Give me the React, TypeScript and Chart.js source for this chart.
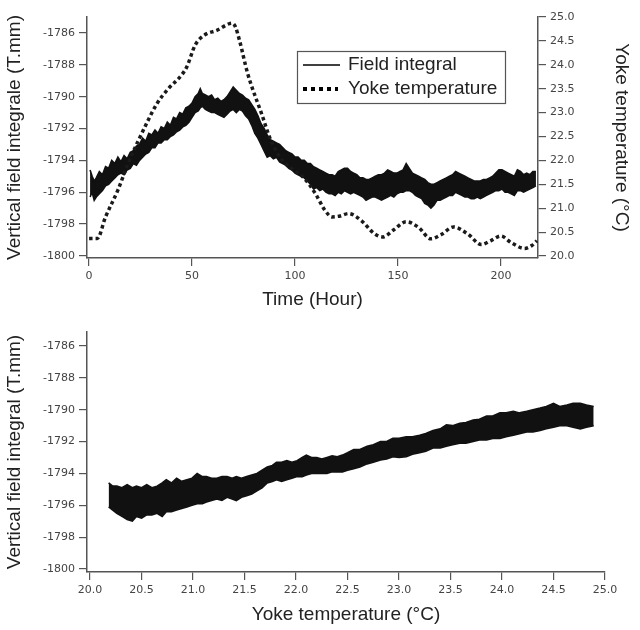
import React, { useEffect, useRef } from "react";
import { Chart, registerables } from "chart.js";

Chart.register(...registerables);

// ---------- Top panel: field integral band (upper / lower envelope) vs time ----------
const TIME_HOURS = [
  0.5, 1.5, 2.5, 3.5, 5, 6.5, 8, 9.5, 11, 12.5,
  14, 15.5, 17, 18.5, 20, 21.5, 23, 24.5, 26, 27.5,
  29, 30.5, 32, 33.5, 35, 36.5, 38, 39.5, 41, 42.5,
  44, 45.5, 47, 48.5, 50, 51.5, 53, 54, 55, 56.5,
  58, 59.5, 61, 62.5, 64, 65.5, 67, 68.5, 70, 71.5,
  73, 74.5, 76, 77.5, 79, 80.5, 82, 83.5, 85, 86.5,
  88, 89.5, 91, 92.5, 94, 95.5, 97, 98.5, 100, 101.5,
  103, 104.5, 106, 107.5, 109, 110.5, 112, 113.5, 115, 116.5,
  118, 119.5, 121, 122.5, 124, 125.5, 127, 128.5, 130, 131.5,
  133, 134.5, 136, 137.5, 139, 140.5, 142, 143.5, 145, 146.5,
  148, 149.5, 151, 152.5, 154, 155.5, 157, 158.5, 160, 161.5,
  163, 164.5, 166, 167.5, 169, 170.5, 172, 173.5, 175, 176.5,
  178, 179.5, 181, 182.5, 184, 185.5, 187, 188.5, 190, 191.5,
  193, 194.5, 196, 197.5, 199, 200.5, 202, 203.5, 205, 206.5,
  208, 209.5, 211, 212.5, 214, 215.5, 217,
];
const FIELD_UPPER = [
  -1794.6, -1795.0, -1795.3, -1795.1, -1794.7, -1794.9, -1794.4, -1794.5, -1794.0, -1794.2,
  -1793.8, -1794.1, -1793.7, -1793.9, -1793.5, -1793.4, -1793.1, -1793.0, -1792.6, -1792.8,
  -1792.3, -1792.4, -1792.1, -1792.3, -1791.9, -1792.0, -1791.6, -1791.8, -1791.3, -1791.4,
  -1791.0, -1791.1, -1790.7, -1790.6, -1790.4, -1790.0, -1789.8, -1789.5, -1789.8, -1789.9,
  -1790.0, -1789.9, -1790.2, -1790.1, -1790.3, -1790.2, -1790.0, -1789.7, -1789.4, -1789.6,
  -1789.8, -1789.9, -1790.1, -1790.2, -1790.5, -1790.8, -1791.2, -1791.7, -1792.0, -1792.4,
  -1792.7, -1792.8, -1792.9, -1793.0, -1793.2, -1793.4, -1793.5, -1793.6, -1793.8, -1793.8,
  -1794.0, -1794.0, -1794.2, -1794.2, -1794.4, -1794.5, -1794.6, -1794.7, -1794.8, -1794.9,
  -1794.9, -1795.0, -1794.7, -1794.6, -1794.5, -1794.5, -1794.7, -1794.8, -1794.9, -1795.1,
  -1795.1, -1795.2, -1795.2, -1795.1, -1795.0, -1794.9, -1794.9, -1794.8, -1794.6, -1794.7,
  -1794.8, -1794.8, -1794.7, -1794.6, -1794.2, -1794.5, -1794.8, -1794.9, -1795.0, -1795.1,
  -1795.2, -1795.4, -1795.5, -1795.5, -1795.4, -1795.3, -1795.2, -1795.1, -1795.0, -1794.9,
  -1794.7, -1794.8, -1794.9, -1795.0, -1795.1, -1795.2, -1795.3, -1795.3, -1795.3, -1795.2,
  -1795.2, -1795.1, -1795.0, -1794.8, -1794.6, -1794.6, -1794.7, -1794.8, -1794.9, -1795.0,
  -1794.6, -1794.7, -1794.9, -1794.8, -1794.9, -1794.7, -1794.7,
];
const FIELD_LOWER = [
  -1796.3, -1796.0, -1796.5, -1796.3, -1796.1, -1795.9, -1795.6, -1795.5, -1795.3, -1795.1,
  -1794.9, -1794.8, -1794.9, -1794.6, -1794.5, -1794.2, -1794.3, -1794.0, -1793.8, -1793.6,
  -1793.5, -1793.2, -1793.2, -1792.9, -1792.9, -1792.7, -1792.7, -1792.5, -1792.4, -1792.2,
  -1792.1, -1791.9, -1791.8, -1791.6, -1791.3, -1791.0, -1790.9, -1790.7, -1790.6, -1790.8,
  -1790.9, -1791.0, -1791.0, -1791.1, -1791.2, -1791.3, -1791.1, -1790.9, -1790.8, -1791.0,
  -1790.8, -1790.9, -1791.2, -1791.4, -1791.8, -1792.3, -1792.6, -1793.0, -1793.4, -1793.8,
  -1793.7, -1793.9, -1793.8, -1794.1, -1794.2, -1794.3, -1794.5, -1794.6, -1794.8, -1794.9,
  -1795.0, -1795.1, -1795.3, -1795.5, -1795.8, -1795.7, -1795.9, -1795.8, -1796.0, -1796.1,
  -1796.1, -1796.2, -1796.0, -1796.1, -1795.9, -1796.0, -1796.1, -1796.0, -1796.1, -1796.2,
  -1796.3, -1796.5, -1796.4, -1796.3, -1796.3, -1796.4, -1796.5, -1796.4, -1796.3, -1796.2,
  -1796.3, -1796.1, -1796.0, -1796.0, -1795.9, -1795.9, -1796.0, -1796.2, -1796.3, -1796.4,
  -1796.7, -1796.8, -1797.0, -1796.8, -1796.5, -1796.5, -1796.4, -1796.3, -1796.2, -1796.2,
  -1796.0, -1796.1, -1796.2, -1796.3, -1796.3, -1796.4, -1796.4, -1796.3, -1796.4, -1796.3,
  -1796.2, -1796.1, -1796.0, -1795.9, -1795.9, -1795.8, -1796.0, -1796.0, -1796.1, -1796.2,
  -1795.9, -1795.9, -1796.0, -1795.9, -1795.8, -1795.7, -1795.6,
];

// ---------- Top panel: yoke temperature vs time ----------
const TEMP_TIME = [
  0, 4, 8, 14, 19, 28, 33, 38.5, 45, 47.5,
  51.5, 56, 62, 69.5, 71, 73, 77, 84, 88, 93.5,
  100, 104, 110, 114.5, 118, 122, 126, 132, 138.5, 142.5,
  148, 154, 160, 166, 171, 177, 184, 190.5, 195, 200,
  205, 211.5, 215, 217.5,
];
const TEMP_VALUES = [
  20.37, 20.37, 20.82, 21.38, 21.94, 22.78, 23.19, 23.5, 23.79, 23.96,
  24.41, 24.62, 24.72, 24.87, 24.8, 24.52, 23.82, 22.95, 22.45, 22.02,
  21.78, 21.65, 21.3, 20.96, 20.82, 20.84, 20.89, 20.75, 20.47, 20.4,
  20.55, 20.72, 20.6, 20.36, 20.45, 20.61, 20.46, 20.24, 20.32, 20.42,
  20.28, 20.16, 20.22, 20.32,
];

// ---------- Bottom panel: field integral band vs yoke temperature ----------
const YOKE_TEMP = [
  20.18, 20.22, 20.26, 20.31, 20.36, 20.41, 20.45, 20.5, 20.55, 20.6,
  20.65, 20.7, 20.74, 20.79, 20.84, 20.89, 20.94, 20.99, 21.04, 21.09,
  21.13, 21.18, 21.23, 21.28, 21.33, 21.38, 21.42, 21.47, 21.52, 21.57,
  21.62, 21.67, 21.72, 21.77, 21.81, 21.86, 21.91, 21.96, 22.01, 22.06,
  22.1, 22.15, 22.2, 22.25, 22.3, 22.35, 22.4, 22.45, 22.5, 22.56,
  22.62, 22.69, 22.75, 22.82, 22.88, 22.94, 23.0, 23.07, 23.13, 23.2,
  23.26, 23.33, 23.4, 23.46, 23.52, 23.59, 23.65, 23.72, 23.78, 23.85,
  23.91, 23.98, 24.04, 24.11, 24.17, 24.24, 24.3, 24.37, 24.43, 24.5,
  24.56, 24.63, 24.69, 24.76, 24.82, 24.89,
];
const FIELD_VS_TEMP_UPPER = [
  -1794.6, -1794.8, -1794.8, -1794.9, -1794.7, -1794.9, -1794.8, -1794.9, -1794.7, -1794.9,
  -1794.8, -1794.6, -1794.4, -1794.6, -1794.3, -1794.5, -1794.4, -1794.3, -1794.0, -1794.2,
  -1794.2, -1794.3, -1794.3, -1794.2, -1794.2, -1794.3, -1794.2, -1794.3, -1794.2, -1794.1,
  -1794.0, -1793.8, -1793.6, -1793.5, -1793.3, -1793.3, -1793.2, -1793.3, -1793.2, -1793.0,
  -1792.85, -1793.0, -1793.0, -1793.1, -1793.0, -1792.9, -1792.95, -1792.85, -1792.7, -1792.5,
  -1792.5, -1792.3, -1792.2, -1792.0, -1792.0, -1791.8, -1791.8, -1791.7, -1791.7, -1791.6,
  -1791.5, -1791.3, -1791.2, -1790.95, -1791.0, -1790.85, -1790.8, -1790.65, -1790.6, -1790.4,
  -1790.4, -1790.2, -1790.2, -1790.1, -1790.2, -1790.1, -1790.0, -1789.9, -1789.8, -1789.6,
  -1789.8, -1789.7, -1789.6, -1789.6, -1789.7, -1789.8,
];
const FIELD_VS_TEMP_LOWER = [
  -1796.1, -1796.3, -1796.5, -1796.7, -1796.9, -1797.0, -1796.7, -1796.8, -1796.6, -1796.6,
  -1796.5, -1796.7, -1796.4, -1796.4, -1796.3, -1796.2, -1796.1, -1796.0, -1795.9, -1795.9,
  -1795.8, -1795.7, -1795.6, -1795.7, -1795.5, -1795.6, -1795.7, -1795.5, -1795.4, -1795.3,
  -1795.1, -1794.9, -1794.6, -1794.5, -1794.4, -1794.5, -1794.4, -1794.3, -1794.2, -1794.2,
  -1794.1, -1794.0, -1794.0, -1794.0, -1794.0, -1793.9, -1793.9, -1793.9, -1793.8, -1793.7,
  -1793.6, -1793.4, -1793.3, -1793.15, -1793.1, -1792.95, -1793.0, -1792.95, -1792.8, -1792.7,
  -1792.6, -1792.4, -1792.4, -1792.3, -1792.2, -1792.1, -1792.1, -1792.0, -1791.9, -1791.9,
  -1791.8, -1791.8, -1791.7, -1791.6, -1791.5, -1791.4, -1791.4, -1791.3, -1791.2, -1791.1,
  -1791.0, -1791.0, -1791.1, -1791.2, -1791.1, -1791.0,
];

// ---------- Tick values and labels ----------
const TIME_TICKS = [0, 50, 100, 150, 200];
const FIELD_TICKS = [-1800, -1798, -1796, -1794, -1792, -1790, -1788, -1786];
const TEMP_TICKS = [20, 20.5, 21, 21.5, 22, 22.5, 23, 23.5, 24, 24.5, 25];
const LEGEND_LABELS = ["Field integral", "Yoke temperature"];

const TITLE_FONT = { family: "'Liberation Sans', Arial, sans-serif", size: 19 };
const TICK_FONT = { family: "'DejaVu Sans', sans-serif", size: 11 };
const AXIS_COLOR = "#555";
const TITLE_COLOR = "#222";
const TICK_COLOR = "#444";
const BAND_COLOR = "#111";

function axis(opts: any) {
  const { ticks, fmt, size, horizontal, title, titlePadding, ...rest } = opts;
  return {
    ...rest,
    afterBuildTicks: (s: any) => {
      s.ticks = ticks.map((v: number) => ({ value: v }));
    },
    afterFit: (s: any) => {
      if (horizontal) s.height = size;
      else s.width = size;
    },
    grid: {
      drawOnChartArea: false,
      drawTicks: true,
      tickLength: 8,
      color: AXIS_COLOR,
      lineWidth: 1.2,
    },
    border: { display: true, color: AXIS_COLOR, width: 1.5 },
    ticks: {
      font: TICK_FONT,
      color: TICK_COLOR,
      padding: 4,
      maxRotation: 0,
      autoSkip: false,
      callback: (v: any) => fmt(Number(v)),
    },
    title: {
      display: true,
      text: title,
      font: TITLE_FONT,
      color: TITLE_COLOR,
      padding: titlePadding,
    },
  };
}

const legendPlugin = {
  id: "boxLegend",
  afterDraw(chart: any) {
    const ctx = chart.ctx;
    ctx.save();
    ctx.fillStyle = "#fff";
    ctx.fillRect(297, 51, 209, 52);
    ctx.strokeStyle = "#555";
    ctx.lineWidth = 1.2;
    ctx.strokeRect(297.5, 51.5, 208, 52);
    ctx.strokeStyle = "#000";
    ctx.lineWidth = 1.4;
    ctx.beginPath();
    ctx.moveTo(303, 65);
    ctx.lineTo(340, 65);
    ctx.stroke();
    ctx.setLineDash([4, 4]);
    ctx.lineWidth = 4;
    ctx.beginPath();
    ctx.moveTo(303, 89);
    ctx.lineTo(338, 89);
    ctx.stroke();
    ctx.setLineDash([]);
    ctx.fillStyle = TITLE_COLOR;
    ctx.font = "19px 'Liberation Sans', Arial, sans-serif";
    ctx.textBaseline = "middle";
    ctx.textAlign = "left";
    ctx.fillText(LEGEND_LABELS[0], 348, 65);
    ctx.fillText(LEGEND_LABELS[1], 348, 89);
    ctx.restore();
  },
};

const pts = (xs: number[], ys: number[]) => xs.map((x, i) => ({ x, y: ys[i] }));

export default function App() {
  const topRef = useRef<HTMLCanvasElement>(null);
  const botRef = useRef<HTMLCanvasElement>(null);

  useEffect(() => {
    const common = {
      responsive: false,
      maintainAspectRatio: false,
      animation: false as const,
      events: [] as any[],
      plugins: { legend: { display: false }, tooltip: { enabled: false } },
      elements: { point: { radius: 0 } },
    };

    const top = new Chart(topRef.current as HTMLCanvasElement, {
      type: "line",
      data: {
        datasets: [
          {
            label: LEGEND_LABELS[1],
            data: pts(TEMP_TIME, TEMP_VALUES),
            yAxisID: "y2",
            borderColor: "#1a1a1a",
            borderWidth: 3.5,
            borderDash: [3.5, 3],
            cubicInterpolationMode: "monotone",
            fill: false,
            pointRadius: 0,
          },
          {
            label: LEGEND_LABELS[0],
            data: pts(TIME_HOURS, FIELD_UPPER),
            yAxisID: "y",
            borderColor: BAND_COLOR,
            backgroundColor: BAND_COLOR,
            borderWidth: 1.6,
            fill: "+1",
            pointRadius: 0,
          },
          {
            label: LEGEND_LABELS[0] + " (low)",
            data: pts(TIME_HOURS, FIELD_LOWER),
            yAxisID: "y",
            borderColor: BAND_COLOR,
            borderWidth: 1.6,
            fill: false,
            pointRadius: 0,
          },
        ],
      },
      options: {
        ...common,
        layout: { padding: { top: 17, left: 0, right: 0, bottom: 0 } },
        scales: {
          x: axis({
            type: "linear",
            position: "bottom",
            min: -1,
            max: 218,
            ticks: TIME_TICKS,
            fmt: (v: number) => String(v),
            size: 57,
            horizontal: true,
            title: "Time (Hour)",
            titlePadding: { top: 0, bottom: 4 },
          }),
          y: axis({
            type: "linear",
            position: "left",
            min: -1800.13,
            max: -1785.0,
            ticks: FIELD_TICKS,
            fmt: (v: number) => String(v),
            size: 87,
            title: "Vertical field integrale (T.mm)",
            titlePadding: { top: 3, bottom: 0 },
          }),
          y2: axis({
            type: "linear",
            position: "right",
            min: 19.96,
            max: 25.0,
            ticks: TEMP_TICKS,
            fmt: (v: number) => v.toFixed(1),
            size: 102,
            title: "Yoke temperature (°C)",
            titlePadding: { top: 7, bottom: 0 },
          }),
        },
      } as any,
      plugins: [legendPlugin],
    });

    const bot = new Chart(botRef.current as HTMLCanvasElement, {
      type: "line",
      data: {
        datasets: [
          {
            label: LEGEND_LABELS[0],
            data: pts(YOKE_TEMP, FIELD_VS_TEMP_UPPER),
            borderColor: BAND_COLOR,
            backgroundColor: BAND_COLOR,
            borderWidth: 1.6,
            fill: "+1",
            pointRadius: 0,
          },
          {
            label: LEGEND_LABELS[0] + " (low)",
            data: pts(YOKE_TEMP, FIELD_VS_TEMP_LOWER),
            borderColor: BAND_COLOR,
            borderWidth: 1.6,
            fill: false,
            pointRadius: 0,
          },
        ],
      },
      options: {
        ...common,
        layout: { padding: { top: 17, left: 0, right: 35, bottom: 0 } },
        scales: {
          x: axis({
            type: "linear",
            position: "bottom",
            min: 19.97,
            max: 25.0,
            ticks: TEMP_TICKS,
            fmt: (v: number) => v.toFixed(1),
            size: 58,
            horizontal: true,
            title: "Yoke temperature (°C)",
            titlePadding: { top: 0, bottom: 4 },
          }),
          y: axis({
            type: "linear",
            position: "left",
            min: -1800.19,
            max: -1785.12,
            ticks: FIELD_TICKS,
            fmt: (v: number) => String(v),
            size: 87,
            title: "Vertical field integral (T.mm)",
            titlePadding: { top: 3, bottom: 0 },
          }),
        },
      } as any,
    });

    return () => {
      top.destroy();
      bot.destroy();
    };
  }, []);

  return (
    <div
      style={{
        position: "absolute",
        left: 0,
        top: 0,
        width: 640,
        height: 630,
        background: "#fff",
      }}
    >
      <canvas ref={topRef} width={640} height={315} style={{ display: "block", width: 640, height: 315 }} />
      <canvas ref={botRef} width={640} height={315} style={{ display: "block", width: 640, height: 315 }} />
    </div>
  );
}
